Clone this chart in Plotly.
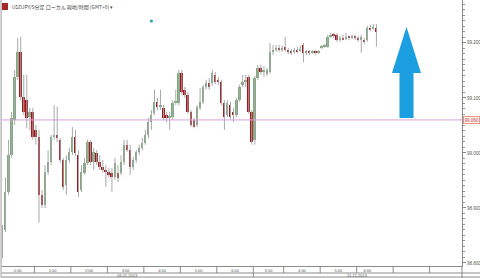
import plotly.graph_objects as go

# ---- data: 5-minute USDJPY candles ----
opens = [98.818, 98.860, 98.929, 98.996, 99.060, 99.138, 99.184, 99.102, 99.096, 99.065,
         99.075, 99.042, 99.029, 98.924, 98.905, 98.965, 98.984, 99.029, 99.033, 99.024,
         98.987, 98.942, 98.987, 99.002, 99.029, 98.996, 98.933, 98.964, 98.982, 99.020,
         98.984, 99.000, 98.984, 98.975, 98.969, 98.965, 98.964, 98.956, 98.964, 98.964,
         98.984, 99.015, 99.005, 98.975, 98.987, 99.002, 99.009, 99.018, 99.033, 99.056,
         99.073, 99.093, 99.084, 99.082, 99.069, 99.065, 99.065, 99.091, 99.091, 99.145,
         99.115, 99.105, 99.075, 99.060, 99.051, 99.082, 99.093, 99.120, 99.127, 99.127,
         99.142, 99.133, 99.129, 99.091, 99.069, 99.087, 99.075, 99.069, 99.096, 99.124,
         99.129, 99.138, 99.075, 99.024, 99.136, 99.155, 99.147, 99.144, 99.147, 99.184,
         99.187, 99.191, 99.187, 99.193, 99.187, 99.184, 99.184, 99.187, 99.187, 99.196,
         99.182, 99.184, 99.182, 99.184, 99.182, 99.191, 99.193, 99.193, 99.211, 99.215,
         99.215, 99.205, 99.209, 99.207, 99.211, 99.209, 99.211, 99.209, 99.205, 99.205,
         99.205, 99.227, 99.225, 99.227]
highs = [98.869, 98.956, 99.024, 99.075, 99.151, 99.209, 99.211, 99.142, 99.142, 99.082,
         99.082, 99.051, 99.042, 98.933, 98.978, 99.005, 99.033, 99.087, 99.084, 99.027,
         98.991, 98.996, 99.009, 99.047, 99.042, 99.005, 98.978, 98.991, 99.024, 99.024,
         99.009, 99.005, 98.996, 98.987, 98.978, 98.973, 98.973, 98.991, 98.978, 98.996,
         99.024, 99.024, 99.015, 98.993, 99.005, 99.015, 99.027, 99.042, 99.064, 99.078,
         99.115, 99.100, 99.115, 99.087, 99.075, 99.075, 99.096, 99.115, 99.151, 99.151,
         99.120, 99.111, 99.078, 99.064, 99.087, 99.118, 99.124, 99.133, 99.136, 99.151,
         99.147, 99.138, 99.133, 99.096, 99.096, 99.093, 99.082, 99.100, 99.124, 99.142,
         99.142, 99.142, 99.078, 99.140, 99.160, 99.160, 99.158, 99.155, 99.200, 99.196,
         99.196, 99.196, 99.195, 99.211, 99.191, 99.189, 99.191, 99.193, 99.195, 99.200,
         99.187, 99.187, 99.187, 99.187, 99.187, 99.196, 99.198, 99.215, 99.218, 99.218,
         99.218, 99.213, 99.215, 99.218, 99.213, 99.215, 99.215, 99.213, 99.215, 99.209,
         99.231, 99.233, 99.234, 99.234]
lows = [98.809, 98.856, 98.924, 98.991, 99.051, 99.133, 99.096, 99.069, 99.045, 99.042,
        99.024, 99.015, 98.873, 98.900, 98.900, 98.960, 98.978, 99.024, 99.020, 98.982,
        98.933, 98.924, 98.982, 98.996, 98.994, 98.920, 98.929, 98.960, 98.978, 98.978,
        98.969, 98.978, 98.969, 98.964, 98.938, 98.955, 98.929, 98.951, 98.947, 98.960,
        98.978, 99.002, 98.960, 98.969, 98.982, 98.996, 99.005, 99.015, 99.027, 99.042,
        99.069, 99.078, 99.078, 99.060, 99.056, 99.042, 99.060, 99.087, 99.087, 99.105,
        99.100, 99.071, 99.047, 99.045, 99.047, 99.078, 99.089, 99.115, 99.115, 99.122,
        99.125, 99.124, 99.087, 99.042, 99.065, 99.062, 99.056, 99.065, 99.093, 99.120,
        99.120, 99.071, 99.015, 99.015, 99.133, 99.142, 99.138, 99.140, 99.144, 99.178,
        99.184, 99.184, 99.184, 99.184, 99.180, 99.178, 99.180, 99.182, 99.184, 99.165,
        99.178, 99.178, 99.180, 99.178, 99.180, 99.189, 99.191, 99.191, 99.209, 99.209,
        99.202, 99.202, 99.205, 99.205, 99.205, 99.207, 99.205, 99.202, 99.182, 99.198,
        99.202, 99.222, 99.224, 99.193]
closes = [98.860, 98.929, 98.996, 99.064, 99.138, 99.184, 99.102, 99.075, 99.064, 99.075,
          99.029, 99.029, 98.924, 98.905, 98.965, 98.984, 99.029, 99.033, 99.027, 98.987,
          98.938, 98.987, 99.002, 99.029, 99.000, 98.929, 98.965, 98.982, 99.020, 98.984,
          99.002, 98.984, 98.975, 98.969, 98.965, 98.960, 98.956, 98.982, 98.955, 98.984,
          99.015, 99.005, 98.975, 98.987, 99.002, 99.009, 99.018, 99.033, 99.056, 99.069,
          99.093, 99.084, 99.087, 99.064, 99.064, 99.066, 99.091, 99.093, 99.145, 99.111,
          99.105, 99.075, 99.051, 99.047, 99.084, 99.093, 99.120, 99.127, 99.120, 99.145,
          99.129, 99.129, 99.091, 99.065, 99.091, 99.065, 99.069, 99.096, 99.120, 99.129,
          99.133, 99.075, 99.020, 99.136, 99.155, 99.147, 99.151, 99.151, 99.184, 99.187,
          99.191, 99.187, 99.191, 99.187, 99.184, 99.183, 99.187, 99.185, 99.188, 99.182,
          99.184, 99.182, 99.184, 99.182, 99.184, 99.193, 99.195, 99.211, 99.215, 99.213,
          99.205, 99.209, 99.207, 99.211, 99.209, 99.211, 99.209, 99.205, 99.211, 99.202,
          99.227, 99.225, 99.229, 99.220]

# hour boundaries (in candle slots) and their labels
hour_bounds = [-0.5, 10.5, 22.5, 34.5, 46.5, 58.5, 70.5, 82.5, 92.5, 104.5, 116.5, 128.5, 140.5]
hour_labels = ["0:00", "1:00", "2:00", "3:00", "4:00", "5:00", "6:00", "3:00", "4:00", "5:00", "6:00"]
date_bounds = [-0.5, 82.5, 151.15]
date_labels = ["09-11-2013", "11-11-2013"]

y_ticks = [98.8, 98.9, 99.0, 99.1, 99.2]
ref_price = 99.060
signal_slot = [49]
signal_price = [99.240]

title_text = "USDJPY/5分足 ローカル 現地/時間 (GMT+0) ▾"

# ---- build figure ----
n = len(closes)
idx = list(range(n))
UP = "#7eab7e"
DN = "#a3161b"
WICK = "#a8a8a8"

wx, wy = [], []
for i in idx:
    wx += [i, i, None]
    wy += [lows[i], highs[i], None]

bases = [min(o, c) for o, c in zip(opens, closes)]
heights = [max(abs(c - o), 0.0016) for o, c in zip(opens, closes)]
colors = [UP if c >= o else DN for o, c in zip(opens, closes)]

fig = go.Figure()
fig.add_trace(go.Scatter(x=wx, y=wy, mode="lines", line=dict(color=WICK, width=1),
                         hoverinfo="skip", showlegend=False))
fig.add_trace(go.Bar(x=idx, y=heights, base=bases, width=0.62,
                     marker=dict(color=colors, line=dict(width=0)), showlegend=False))
fig.add_trace(go.Scatter(x=signal_slot, y=signal_price, mode="markers",
                         marker=dict(color="#1fa3a3", size=3), showlegend=False))

# time-label centres
label_centres = [(hour_bounds[k] + min(hour_bounds[k + 1], n - 0.5)) / 2 for k in range(len(hour_labels))]
date_centres = [(date_bounds[k] + date_bounds[k + 1]) / 2 for k in range(len(date_labels))]

PH = 266.0  # plot height in px
def py(px):  # pixels below plot -> paper y
    return -px / PH

shapes = []
# hour separators in the time row
for b in hour_bounds[1:]:
    shapes.append(dict(type="line", xref="x", yref="paper", x0=b, x1=b, y0=py(0), y1=py(7),
                       line=dict(color="#8a8a8a", width=1)))
# date separator
shapes.append(dict(type="line", xref="x", yref="paper", x0=date_bounds[1], x1=date_bounds[1],
                   y0=py(7), y1=py(11), line=dict(color="#8a8a8a", width=1)))
# horizontal row lines
for yy in (7, 11):
    shapes.append(dict(type="line", xref="paper", yref="paper", x0=0, x1=1.04, y0=py(yy), y1=py(yy),
                       line=dict(color="#8a8a8a", width=1)))
# right axis extension to bottom
shapes.append(dict(type="line", xref="paper", yref="paper", x0=1, x1=1, y0=0, y1=py(12),
                   line=dict(color="#8a8a8a", width=1)))
# left border
shapes.append(dict(type="line", xref="paper", yref="paper", x0=-0.002, x1=-0.002, y0=py(12), y1=1,
                   line=dict(color="#9a9a9a", width=1)))
# reference price line
shapes.append(dict(type="line", xref="paper", yref="y", x0=0, x1=1, y0=ref_price, y1=ref_price,
                   line=dict(color="#d7a3d7", width=1)))
# title icon
shapes.append(dict(type="rect", xref="paper", yref="paper", x0=0.0, x1=0.013,
                   y0=1 - 10 / PH, y1=1 - 3 / PH, fillcolor="#a52a2a", line=dict(width=0)))

# blue up arrow (decoration)
def P(xp, ypx):
    return f"{(xp - 2) / 460:.4f},{1 - ypx / PH:.4f}"
arrow = ("M " + P(406.5, 27) + " L " + P(421, 73) + " L " + P(413.5, 73) + " L " + P(413.5, 118) +
         " L " + P(399.5, 118) + " L " + P(399.5, 73) + " L " + P(392, 73) + " Z")
shapes.append(dict(type="path", xref="paper", yref="paper", path=arrow,
                   fillcolor="#1c9fe0", line=dict(width=0)))

annotations = [
    dict(x=0.018, y=1 - 6.5 / PH, xref="paper", yref="paper", text=title_text, showarrow=False,
         xanchor="left", yanchor="middle", font=dict(size=5, color="#444", family="Noto Sans CJK JP")),
    dict(x=1, y=ref_price, xref="paper", yref="y", text=ref_price.__format__(".3f"), showarrow=False,
         xanchor="left", yanchor="middle", xshift=1, font=dict(size=4.5, color="#c04040"),
         bgcolor="#fff4ee", bordercolor="#e39a8a", borderwidth=1, borderpad=0.5),
]
for c, t in zip(date_centres, date_labels):
    annotations.append(dict(x=c, y=py(9), xref="x", yref="paper", text=t, showarrow=False,
                            xanchor="center", yanchor="middle", font=dict(size=4, color="#555")))

fig.update_layout(
    width=480, height=278,
    margin=dict(l=2, r=18, t=0, b=12),
    paper_bgcolor="white", plot_bgcolor="white",
    font=dict(family="Liberation Sans, Arial, sans-serif", color="#555"),
    bargap=0, showlegend=False,
    shapes=shapes, annotations=annotations,
    xaxis=dict(range=[-0.16, 151.15], showgrid=False, zeroline=False,
               tickmode="array", tickvals=label_centres, ticktext=hour_labels, ticks="",
               tickfont=dict(size=4, color="#555"), showline=True, linecolor="#8a8a8a",
               ticklabelstandoff=0),
    yaxis=dict(side="right", range=[98.7945, 99.278], tickmode="array", tickvals=y_ticks,
               tickformat=".3f", ticks="outside", ticklen=3, tickcolor="#888",
               showline=True, linecolor="#8a8a8a", showgrid=False, zeroline=False,
               tickfont=dict(size=4.5, color="#555"),
               minor=dict(ticks="outside", ticklen=1.5, dtick=0.01, tickcolor="#999")),
)

fig.write_html("out.html")
